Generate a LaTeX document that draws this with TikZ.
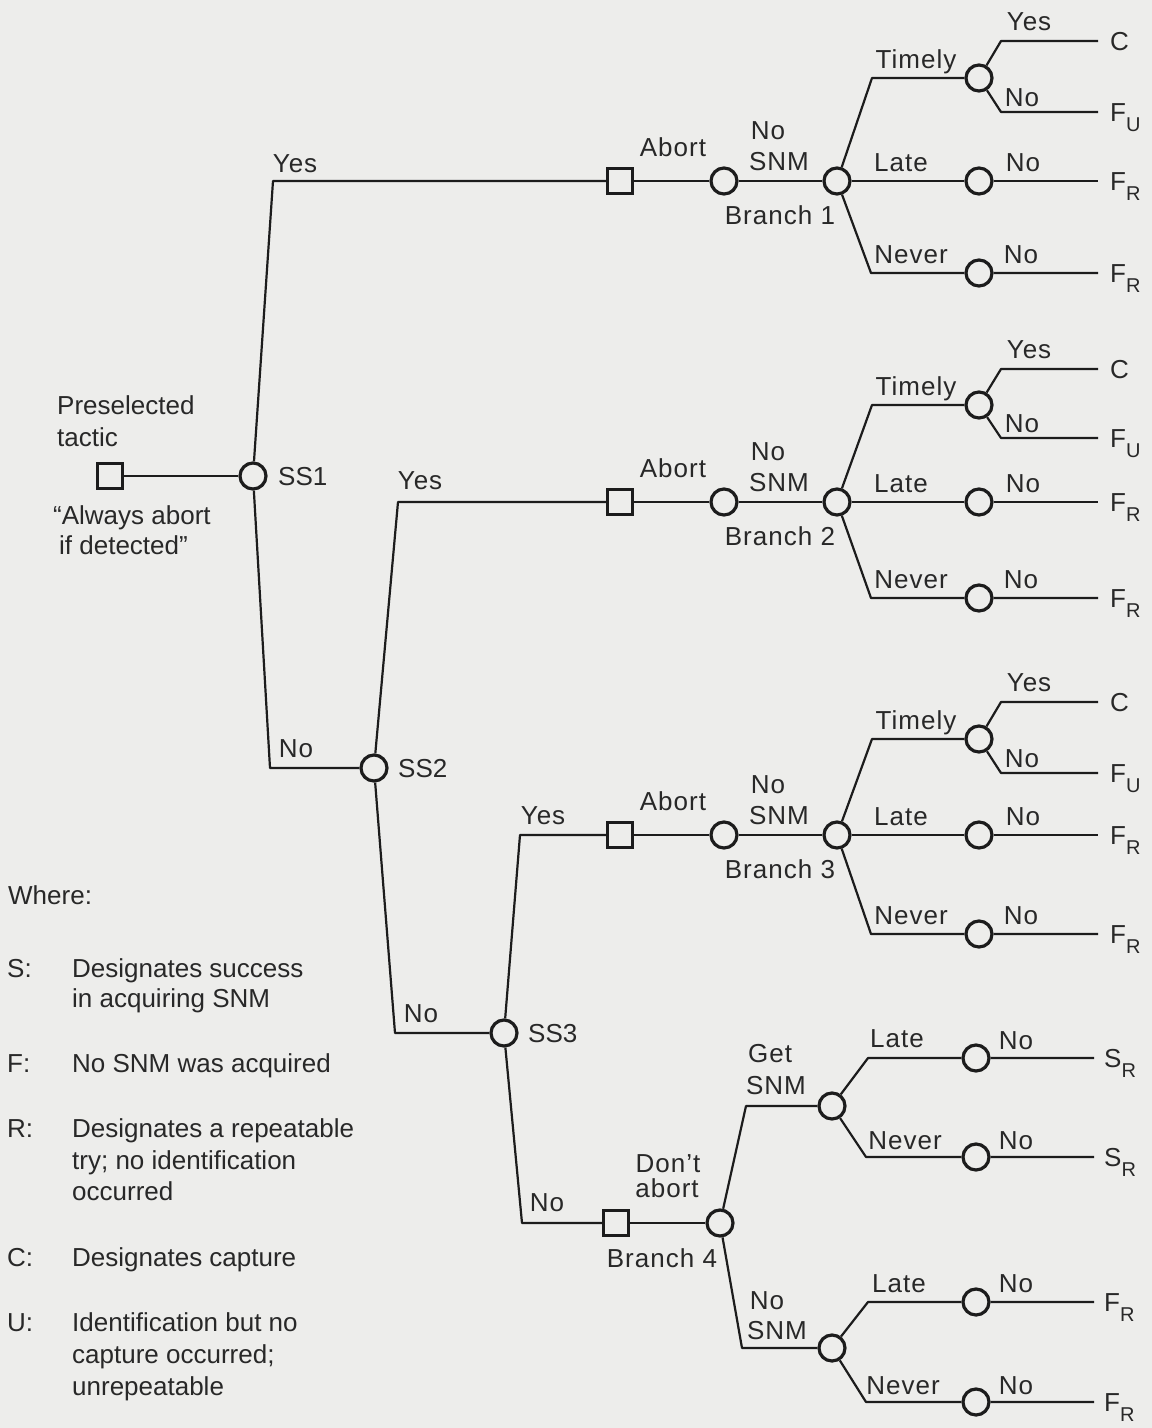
\documentclass[tikz,border=0pt]{standalone}
\usepackage{fontspec}
\setmainfont{Liberation Sans}
\newfontfamily\treefont[LetterSpace=4]{Liberation Sans}
\definecolor{paper}{RGB}{237,237,235}
\definecolor{ink}{RGB}{28,28,28}
\definecolor{textink}{RGB}{40,40,40}
% lowered subscript for outcome codes
\newcommand\outsub[1]{\raisebox{-10pt}{\fontsize{20}{20}\selectfont #1}}
\begin{document}
\begin{tikzpicture}[x=1pt,y=-1pt,
  decbox/.style={draw=ink, rectangle, line width=3.2pt, minimum size=25pt, inner sep=0pt},
  chance/.style={draw=ink, circle, line width=3.2pt, minimum size=26pt, inner sep=0pt},
  branchline/.style={draw=ink, line width=2.2pt, line join=round},
  lbl/.style={font=\treefont\fontsize{26}{28}\selectfont, text=textink, inner sep=0pt, text height=18.6pt, text depth=0pt},
  lblw/.style={lbl, anchor=west},
  keyw/.style={lblw, font=\fontsize{26}{28}\selectfont}]

\fill[paper] (0,0) rectangle (1152,1428);

% ---- decision trunk ----
\node[decbox] (tac) at (110,476) {};
\node[chance] (ss1) at (253,476) {};
\coordinate (y1) at (273,181);
\coordinate (n1) at (270,768);
\node[chance] (ss2) at (374,768) {};
\coordinate (y2) at (398,502);
\coordinate (n2) at (395,1033);
\node[chance] (ss3) at (504,1033) {};
\coordinate (y3) at (520,835);
\coordinate (n3) at (522,1223);

\node[keyw] (pre1) at (57,405) {Preselected};
\node[keyw] (pre2) at (57,437) {tactic};
\node[keyw] (alw1) at (53,515) {“Always abort};
\node[keyw] (alw2) at (59,545) {if detected”};

\node[keyw] (ss1t) at (278,476) {SS1};
\node[keyw] (ss2t) at (398,768) {SS2};
\node[keyw] (ss3t) at (528,1033) {SS3};
\node[lbl] (ly1) at (295,163) {Yes};
\node[lbl] (ln1) at (296,748) {No};
\node[lbl] (ly2) at (420,480) {Yes};
\node[lbl] (ln2) at (421,1013) {No};
\node[lbl] (ly3) at (543,815) {Yes};
\node[lbl] (ln3) at (547,1202) {No};

% ---- abort branches 1-3 ----
\foreach \b/\y/\t/\c/\u/\n in {1/181/78/41/112/273, 2/502/405/369/438/598, 3/835/739/702/773/934}{
  \node[decbox] (sq\b) at (620,\y) {};
  \node[chance] (ab\b) at (724,\y) {};
  \node[chance] (br\b) at (837,\y) {};
  \coordinate (tc\b) at (872,\t);
  \node[chance] (ti\b) at (979,\t) {};
  \coordinate (yc\b) at (1001,\c);
  \coordinate (ye\b) at (1098,\c);
  \coordinate (nc\b) at (1001,\u);
  \coordinate (ne\b) at (1098,\u);
  \node[chance] (la\b) at (979,\y) {};
  \coordinate (le\b) at (1098,\y);
  \coordinate (vc\b) at (871,\n);
  \node[chance] (nv\b) at (979,\n) {};
  \coordinate (ve\b) at (1098,\n);

  \draw[branchline] (sq\b) -- (ab\b) -- (br\b) -- (la\b) -- (le\b);
  \draw[branchline] (br\b) -- (tc\b) -- (ti\b);
  \draw[branchline] (ti\b) -- (yc\b) -- (ye\b);
  \draw[branchline] (ti\b) -- (nc\b) -- (ne\b);
  \draw[branchline] (br\b) -- (vc\b) -- (nv\b) -- (ve\b);

  \node[lbl] (abt\b) at (673,{\y-34}) {Abort};
  \node[lbl] (nos\b) at (768,{\y-51}) {No};
  \node[lbl] (snm\b) at (779,{\y-20}) {SNM};
  \node[lbl] (brt\b) at (780,{\y+34}) {Branch \b};
  \node[lbl] (tim\b) at (916,{\t-19}) {Timely};
  \node[lbl] (tye\b) at (1029,{\c-20}) {Yes};
  \node[lbl] (tno\b) at (1022,{\u-15}) {No};
  \node[lbl] (lat\b) at (901,{\y-19}) {Late};
  \node[lbl] (lno\b) at (1023,{\y-19}) {No};
  \node[lbl] (nev\b) at (911,{\n-19}) {Never};
  \node[lbl] (vno\b) at (1021,{\n-19}) {No};

  \node[keyw] (oc\b) at (1110,\c) {C};
  \node[keyw] (ou\b) at (1110,\u) {F\outsub{U}};
  \node[keyw] (ol\b) at (1110,\y) {F\outsub{R}};
  \node[keyw] (ov\b) at (1110,\n) {F\outsub{R}};
}

% ---- branch 4: don't abort ----
\node[decbox] (sq4) at (616,1223) {};
\node[chance] (br4) at (720,1223) {};
\coordinate (gc) at (746,1106);
\node[chance] (gs) at (832,1106) {};
\coordinate (glc) at (868,1058);
\node[chance] (gl) at (976,1058) {};
\coordinate (gle) at (1094,1058);
\coordinate (gvc) at (866,1157);
\node[chance] (gv) at (976,1157) {};
\coordinate (gve) at (1094,1157);
\coordinate (nc4) at (742,1348);
\node[chance] (ns) at (832,1348) {};
\coordinate (nlc) at (868,1302);
\node[chance] (nl) at (976,1302) {};
\coordinate (nle) at (1094,1302);
\coordinate (nvc) at (866,1402);
\node[chance] (nvn) at (976,1402) {};
\coordinate (nve) at (1094,1402);

\draw[branchline] (sq4) -- (br4);
\draw[branchline] (br4) -- (gc) -- (gs);
\draw[branchline] (gs) -- (glc) -- (gl) -- (gle);
\draw[branchline] (gs) -- (gvc) -- (gv) -- (gve);
\draw[branchline] (br4) -- (nc4) -- (ns);
\draw[branchline] (ns) -- (nlc) -- (nl) -- (nle);
\draw[branchline] (ns) -- (nvc) -- (nvn) -- (nve);

\node[lbl] (dnt) at (668,1163) {Don’t};
\node[lbl] (dab) at (667,1188) {abort};
\node[lbl] (b4t) at (662,1258) {Branch 4};
\node[lbl] (get) at (770,1053) {Get};
\node[lbl] (gsn) at (776,1085) {SNM};
\node[lbl] (glt) at (897,1038) {Late};
\node[lbl] (gln) at (1016,1040) {No};
\node[lbl] (gvt) at (905,1140) {Never};
\node[lbl] (gvn) at (1016,1140) {No};
\node[lbl] (nst) at (767,1300) {No};
\node[lbl] (nss) at (777,1330) {SNM};
\node[lbl] (nlt) at (899,1283) {Late};
\node[lbl] (nln) at (1016,1283) {No};
\node[lbl] (nvt) at (903,1385) {Never};
\node[lbl] (nvo) at (1016,1385) {No};

\node[keyw] (o41) at (1104,1058) {S\outsub{R}};
\node[keyw] (o42) at (1104,1157) {S\outsub{R}};
\node[keyw] (o43) at (1104,1302) {F\outsub{R}};
\node[keyw] (o44) at (1104,1402) {F\outsub{R}};

% ---- trunk connectors ----
\draw[branchline] (tac) -- (ss1);
\draw[branchline] (ss1) -- (y1) -- (sq1);
\draw[branchline] (ss1) -- (n1) -- (ss2);
\draw[branchline] (ss2) -- (y2) -- (sq2);
\draw[branchline] (ss2) -- (n2) -- (ss3);
\draw[branchline] (ss3) -- (y3) -- (sq3);
\draw[branchline] (ss3) -- (n3) -- (sq4);

% ---- key ----
\node[keyw] (kw) at (8,895) {Where:};
\node[keyw] (ks) at (7,968) {S:};
\node[keyw] (kf) at (7,1063) {F:};
\node[keyw] (kr) at (7,1128) {R:};
\node[keyw] (kc) at (7,1257) {C:};
\node[keyw] (ku) at (7,1322) {U:};
\node[keyw] (ks1) at (72,968) {Designates success};
\node[keyw] (ks2) at (72,998) {in acquiring SNM};
\node[keyw] (kf1) at (72,1063) {No SNM was acquired};
\node[keyw] (kr1) at (72,1128) {Designates a repeatable};
\node[keyw] (kr2) at (72,1160) {try; no identification};
\node[keyw] (kr3) at (72,1191) {occurred};
\node[keyw] (kc1) at (72,1257) {Designates capture};
\node[keyw] (ku1) at (72,1322) {Identification but no};
\node[keyw] (ku2) at (72,1354) {capture occurred;};
\node[keyw] (ku3) at (72,1386) {unrepeatable};
\end{tikzpicture}
\end{document}
